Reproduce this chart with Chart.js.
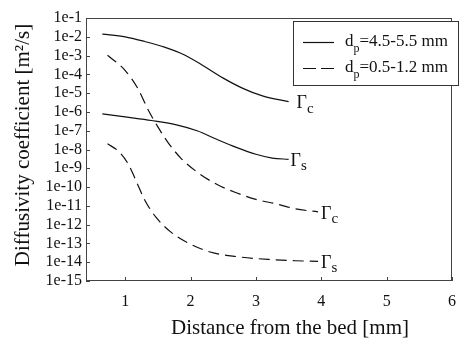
<!DOCTYPE html>
<html><head><meta charset="utf-8">
<script src="https://cdn.jsdelivr.net/npm/chart.js@4.4.0/dist/chart.umd.min.js"></script>
<style>html,body{margin:0;padding:0;background:#fff}#wrap{width:467px;height:344px}</style>
</head><body><div id="wrap"><canvas id="c" width="467" height="344"></canvas></div>
<script>
const xTicks=[1,2,3,4,5,6];
const yTicks=[1e-1,1e-2,1e-3,1e-4,1e-5,1e-6,1e-7,1e-8,1e-9,1e-10,1e-11,1e-12,1e-13,1e-14,1e-15];
const yTickLabels=['1e-1','1e-2','1e-3','1e-4','1e-5','1e-6','1e-7','1e-8','1e-9','1e-10','1e-11','1e-12','1e-13','1e-14','1e-15'];
const xTitle='Distance from the bed [mm]';
const yTitle='Diffusivity coefficient [m²/s]';
const legendTexts=[['d','p','=4.5-5.5 mm'],['d','p','=0.5-1.2 mm']];
const curveLabels=[['Γ','c'],['Γ','s'],['Γ','c'],['Γ','s']];

const solidCX=[0.65,1.0,1.3,1.6,1.9,2.2,2.5,2.8,3.1,3.5];
const solidCY=[1.4e-2,1e-2,5.6e-3,2.8e-3,1.1e-3,2.8e-4,6.3e-5,1.8e-5,7.1e-6,3.5e-6];
const solidSX=[0.65,1.0,1.4,1.8,2.1,2.4,2.7,3.0,3.25,3.5];
const solidSY=[7.9e-7,5.4e-7,3.5e-7,2e-7,1e-7,3.5e-8,1.3e-8,5.6e-9,3.5e-9,3e-9];
const dashCX=[0.73,1.0,1.2,1.35,1.5,1.65,1.85,2.1,2.4,2.7,3.0,3.3,3.6,3.95];
const dashCY=[1.05e-3,1.6e-4,1.6e-5,1.3e-6,1.6e-7,2.5e-8,3.5e-9,6.3e-10,1.4e-10,5e-11,2.2e-11,1.3e-11,7e-12,4.8e-12];
const dashSX=[0.73,0.9,1.05,1.17,1.3,1.47,1.7,1.95,2.3,2.7,3.2,3.6,3.95];
const dashSY=[2e-8,7.9e-9,1.6e-9,2e-10,2e-11,2.5e-12,4e-13,1.1e-13,3.5e-14,2e-14,1.4e-14,1.2e-14,1.1e-14];

const pts=(xs,ys)=>xs.map((v,i)=>({x:v,y:ys[i]}));
const SERIF='"Liberation Serif","DejaVu Serif",serif';
const DASH=[11,6];

function ds(xs,ys,dashed){
  return {data:pts(xs,ys),borderColor:'#111',borderWidth:1.2,pointRadius:0,
    borderDash:dashed?DASH:[],cubicInterpolationMode:'monotone',fill:false};
}

const deco={
  id:'deco',
  afterDraw(chart){
    const {ctx,chartArea:a,scales:{x,y}}=chart;
    ctx.save();
    ctx.strokeStyle='#444';ctx.lineWidth=1;
    ctx.strokeRect(a.left+0.5,a.top+0.5,a.right-a.left-1,a.bottom-a.top-1);
    ctx.beginPath();
    yTicks.forEach(v=>{const py=Math.round(y.getPixelForValue(v))+0.5;ctx.moveTo(a.left,py);ctx.lineTo(a.left+4,py);});
    xTicks.forEach(v=>{const px=Math.round(x.getPixelForValue(v))+0.5;ctx.moveTo(px,a.bottom);ctx.lineTo(px,a.bottom-4);});
    ctx.stroke();
    ctx.fillStyle='#111';
    // axis titles
    ctx.font='21px '+SERIF;ctx.textAlign='center';ctx.textBaseline='middle';
    ctx.fillText(xTitle,290,328);
    ctx.save();ctx.translate(23,145);ctx.rotate(-Math.PI/2);ctx.fillText(yTitle,0,0);ctx.restore();
    // legend
    const lx=293,ly=21,lw=165,lh=64;
    ctx.fillStyle='#fff';ctx.fillRect(lx,ly,lw,lh);
    ctx.strokeStyle='#333';ctx.strokeRect(lx+0.5,ly+0.5,lw,lh);
    const rows=[42,68];
    rows.forEach((ry,i)=>{
      ctx.strokeStyle='#111';ctx.lineWidth=1.2;
      ctx.setLineDash(i===1?[13,5]:[]);
      ctx.beginPath();ctx.moveTo(303,ry+0.5);ctx.lineTo(334,ry+0.5);ctx.stroke();
      ctx.setLineDash([]);
      ctx.fillStyle='#111';ctx.textAlign='left';ctx.textBaseline='middle';
      const [a1,sub,rest]=legendTexts[i];
      let tx=345;
      ctx.font='17px '+SERIF;ctx.fillText(a1,tx,ry);tx+=ctx.measureText(a1).width;
      ctx.font='12px '+SERIF;ctx.fillText(sub,tx,ry+7);tx+=ctx.measureText(sub).width;
      ctx.font='17px '+SERIF;ctx.fillText(rest,tx,ry);
    });
    // curve labels
    const sets=[[solidCX,solidCY,8],[solidSX,solidSY,2],[dashCX,dashCY,3],[dashSX,dashSY,3]];
    sets.forEach(([xs,ys,off],i)=>{
      const px=x.getPixelForValue(xs[xs.length-1])+off;
      const py=y.getPixelForValue(ys[ys.length-1]);
      const [g,s]=curveLabels[i];
      ctx.textAlign='left';ctx.textBaseline='middle';
      ctx.font='18px '+SERIF;ctx.fillText(g,px,py+2);
      const w=ctx.measureText(g).width;
      ctx.font='15px '+SERIF;ctx.fillText(s,px+w,py+7);
    });
    ctx.restore();
  }
};

new Chart(document.getElementById('c'),{
  type:'line',
  data:{datasets:[ds(solidCX,solidCY,false),ds(solidSX,solidSY,false),ds(dashCX,dashCY,true),ds(dashSX,dashSY,true)]},
  options:{
    responsive:false,animation:false,devicePixelRatio:1,
    layout:{padding:{top:18,right:7,left:0,bottom:0}},
    plugins:{legend:{display:false},tooltip:{enabled:false}},
    scales:{
      x:{type:'linear',min:0.4,max:6,
        afterBuildTicks:s=>{s.ticks=xTicks.map(v=>({value:v}));},
        afterFit:s=>{s.height=63;},
        grid:{display:false,drawTicks:false},border:{display:false},
        ticks:{color:'#111',font:{family:SERIF,size:16},padding:11,maxRotation:0,autoSkip:false}},
      y:{type:'logarithmic',min:1e-15,max:1e-1,
        afterBuildTicks:s=>{s.ticks=yTicks.map(v=>({value:v}));},
        afterFit:s=>{s.width=86;},
        grid:{display:false,drawTicks:false},border:{display:false},
        ticks:{color:'#111',font:{family:SERIF,size:16},padding:4,autoSkip:false,
          callback:(v,i)=>yTickLabels[i]}}
    }
  },
  plugins:[deco]
});
</script></body></html>
